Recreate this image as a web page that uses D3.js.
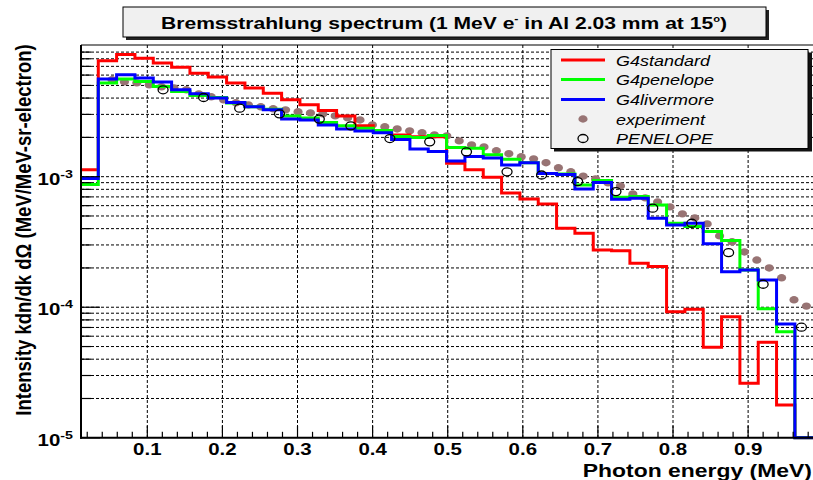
<!DOCTYPE html>
<html>
<head>
<meta charset="utf-8">
<script src="https://cdn.jsdelivr.net/npm/d3@7"></script>
<style>
  body { margin: 0; background: #fff; }
  svg { display: block; }
  text { font-family: "Liberation Sans", Arial, Helvetica, sans-serif; fill: #000; }
</style>
</head>
<body>
<svg width="813" height="480"></svg>
<script>
// histogram binning (bin 0 starts left of the frame)
const binStart = 0.0103;
const binWidth = 0.02441;

const g4standard = [1.13e-3, 7.72e-3, 8.62e-3, 8.09e-3, 7.41e-3, 6.90e-3, 6.21e-3, 5.79e-3, 5.21e-3, 4.77e-3,
  4.36e-3, 3.88e-3, 3.55e-3, 3.21e-3, 2.92e-3, 2.45e-3, 2.24e-3, 2.09e-3, 2.02e-3, 2.02e-3,
  1.27e-3, 1.13e-3, 9.88e-4, 7.51e-4, 6.76e-4, 6.19e-4, 4.03e-4, 3.69e-4, 2.75e-4, 2.71e-4,
  2.17e-4, 2.05e-4, 9.25e-5, 9.65e-5, 4.94e-5, 8.47e-5, 2.62e-5, 5.39e-5, 1.78e-5, 0];

const g4penelope = [8.70e-4, 5.21e-3, 5.59e-3, 5.36e-3, 4.90e-3, 4.49e-3, 4.18e-3, 4.04e-3, 3.66e-3, 3.44e-3,
  3.29e-3, 2.92e-3, 2.81e-3, 2.60e-3, 2.45e-3, 2.35e-3, 2.26e-3, 2.03e-3, 2.00e-3, 2.07e-3,
  1.67e-3, 1.65e-3, 1.47e-3, 1.36e-3, 1.28e-3, 1.06e-3, 1.05e-3, 8.65e-4, 9.33e-4, 6.97e-4,
  7.04e-4, 6.08e-4, 4.40e-4, 4.15e-4, 3.80e-4, 3.24e-4, 1.93e-4, 9.74e-5, 6.50e-5, 0];

const g4livermore = [9.67e-4, 5.59e-3, 6.03e-3, 5.69e-3, 5.30e-3, 4.63e-3, 4.31e-3, 4.00e-3, 3.70e-3, 3.44e-3,
  3.25e-3, 2.77e-3, 2.72e-3, 2.49e-3, 2.32e-3, 2.24e-3, 2.17e-3, 1.93e-3, 1.63e-3, 1.56e-3,
  1.32e-3, 1.43e-3, 1.39e-3, 1.23e-3, 1.28e-3, 1.06e-3, 1.04e-3, 8.06e-4, 9.01e-4, 6.72e-4,
  6.84e-4, 4.81e-4, 4.27e-4, 4.40e-4, 3.06e-4, 1.87e-4, 1.93e-4, 1.62e-4, 7.45e-5, 0];

const expEnergy = [0.053, 0.0695, 0.086, 0.1025, 0.119, 0.1355, 0.152, 0.1686, 0.1851, 0.2016,
  0.2181, 0.2346, 0.2511, 0.2676, 0.2841, 0.3007, 0.3172, 0.3337, 0.3502, 0.3667,
  0.3832, 0.3997, 0.4162, 0.4327, 0.4493, 0.4658, 0.4823, 0.4988, 0.5153, 0.5318,
  0.5483, 0.5648, 0.5814, 0.5979, 0.6144, 0.6309, 0.6474, 0.6639, 0.6804, 0.6969,
  0.7134, 0.7300, 0.7465, 0.7630, 0.7795, 0.7960, 0.8125, 0.8290, 0.8455, 0.8620,
  0.8786, 0.8951, 0.9116, 0.9281, 0.9446, 0.9611, 0.9776];
const expValue = [5.52e-3, 5.33e-3, 5.23e-3, 5.05e-3, 4.88e-3, 4.79e-3, 4.63e-3, 4.31e-3, 4.09e-3, 3.88e-3,
  3.68e-3, 3.55e-3, 3.43e-3, 3.31e-3, 3.25e-3, 3.14e-3, 3.08e-3, 3.03e-3, 2.92e-3, 2.82e-3,
  2.72e-3, 2.49e-3, 2.41e-3, 2.32e-3, 2.24e-3, 2.17e-3, 2.09e-3, 2.05e-3, 1.88e-3, 1.75e-3,
  1.69e-3, 1.58e-3, 1.50e-3, 1.42e-3, 1.37e-3, 1.28e-3, 1.17e-3, 1.09e-3, 1.01e-3, 9.62e-4,
  8.97e-4, 8.50e-4, 7.38e-4, 6.88e-4, 6.41e-4, 5.87e-4, 5.19e-4, 4.83e-4, 4.35e-4, 3.52e-4,
  3.17e-4, 2.65e-4, 2.30e-4, 2.00e-4, 1.68e-4, 1.14e-4, 1.02e-4];

const penEnergy = [0.121, 0.175, 0.223, 0.276, 0.329, 0.371, 0.423, 0.476, 0.525, 0.579,
  0.625, 0.673, 0.724, 0.773, 0.825, 0.874, 0.920, 0.971];
const penValue = [4.63e-3, 4.04e-3, 3.35e-3, 3.03e-3, 2.76e-3, 2.45e-3, 1.96e-3, 1.85e-3, 1.55e-3, 1.09e-3,
  1.03e-3, 9.17e-4, 7.69e-4, 5.74e-4, 4.40e-4, 2.62e-4, 1.50e-4, 7.03e-5];

const xTickLabels = [0.1, 0.2, 0.3, 0.4, 0.5, 0.6, 0.7, 0.8, 0.9];
const yDecades = [-5, -4, -3];

const series = [
  { name: "G4standard", values: g4standard, color: "#ff0000" },
  { name: "G4penelope", values: g4penelope, color: "#00ff00" },
  { name: "G4livermore", values: g4livermore, color: "#0000ff" },
];

const sx = 1.24; // the picture is stretched sideways, text too
const expColor = "#987474";

const svg = d3.select("svg");
const pLeft = 81, pRight = 813, pTop = 45, pBottom = 437.8;

const x = d3.scaleLinear().domain([0.0117, 0.9864]).range([pLeft, pRight]);
const y = d3.scaleLog().domain([1e-5, 1.02e-2]).range([pBottom, pTop]);
const yv = (v) => y(Math.max(v, 1e-5));

svg.append("defs").append("clipPath").attr("id", "plot")
  .append("rect")
  .attr("x", pLeft).attr("y", pTop)
  .attr("width", pRight - pLeft).attr("height", pBottom - pTop + 2);

// grid
const grid = svg.append("g")
  .attr("stroke", "#000")
  .attr("stroke-width", 1)
  .attr("stroke-dasharray", "3,2");

grid.selectAll(".gx")
  .data(xTickLabels)
  .join("line")
  .attr("x1", (d) => x(d)).attr("x2", (d) => x(d))
  .attr("y1", pTop).attr("y2", pBottom);

const yGrid = [];
yDecades.forEach((k) => d3.range(1, 10).forEach((m) => yGrid.push(m * Math.pow(10, k))));

grid.selectAll(".gy")
  .data(yGrid.filter((v) => v > 1e-5))
  .join("line")
  .attr("x1", pLeft).attr("x2", pRight)
  .attr("y1", (d) => y(d)).attr("y2", (d) => y(d));

const plot = svg.append("g").attr("clip-path", "url(#plot)");

// experiment (under the histograms)
plot.append("g")
  .selectAll("ellipse")
  .data(expEnergy)
  .join("ellipse")
  .attr("cx", (d) => x(d))
  .attr("cy", (d, i) => y(expValue[i]))
  .attr("rx", 4.6).attr("ry", 3.7)
  .attr("fill", expColor);

// histograms
const line = d3.line().x((p) => x(p[0])).y((p) => yv(p[1]));
series.forEach((s) => {
  const pts = [];
  s.values.forEach((v, i) => {
    const lo = binStart + i * binWidth;
    pts.push([lo, v], [lo + binWidth, v]);
  });
  plot.append("path")
    .attr("d", line(pts))
    .attr("fill", "none")
    .attr("stroke", s.color)
    .attr("stroke-width", 3)
    .attr("stroke-linejoin", "miter");
});

// PENELOPE open circles
plot.append("g")
  .selectAll("ellipse")
  .data(penEnergy)
  .join("ellipse")
  .attr("cx", (d) => x(d))
  .attr("cy", (d, i) => y(penValue[i]))
  .attr("rx", 5).attr("ry", 4)
  .attr("fill", "none")
  .attr("stroke", "#000")
  .attr("stroke-width", 1.3);

// frame and axes
svg.append("line").attr("x1", pLeft).attr("x2", pRight).attr("y1", pTop).attr("y2", pTop)
  .attr("stroke", "#000").attr("stroke-width", 1.2);
svg.append("line").attr("x1", pLeft).attr("x2", pLeft).attr("y1", pTop).attr("y2", pBottom + 1)
  .attr("stroke", "#000").attr("stroke-width", 2);
svg.append("line").attr("x1", pLeft - 1).attr("x2", pRight).attr("y1", pBottom).attr("y2", pBottom)
  .attr("stroke", "#000").attr("stroke-width", 2);

// x ticks
const xMinor = d3.range(0.02, 0.99, 0.02);
svg.append("g").selectAll("line")
  .data(xMinor)
  .join("line")
  .attr("x1", (d) => x(d)).attr("x2", (d) => x(d))
  .attr("y1", pBottom).attr("y2", (d) => Math.abs(d * 10 - Math.round(d * 10)) < 1e-6 ? pBottom - 12 : pBottom - 6)
  .attr("stroke", "#000").attr("stroke-width", 1.2);

// y ticks
svg.append("g").selectAll("line")
  .data(yGrid)
  .join("line")
  .attr("x1", pLeft).attr("x2", (d, i) => i % 9 === 0 ? pLeft + 19 : pLeft + 10)
  .attr("y1", (d) => y(d)).attr("y2", (d) => y(d))
  .attr("stroke", "#000").attr("stroke-width", 1.2);

// x tick labels
svg.append("g").selectAll("text")
  .data(xTickLabels)
  .join("text")
  .attr("transform", (d) => `translate(${x(d)},454.5) scale(${sx},1)`)
  .attr("text-anchor", "middle")
  .attr("font-size", 16.5)
  .attr("font-weight", "bold")
  .text((d) => d.toFixed(1));

// y tick labels
yDecades.forEach((k) => {
  const t = svg.append("text")
    .attr("transform", `translate(73,${y(Math.pow(10, k)) + 8}) scale(${sx},1)`)
    .attr("text-anchor", "end")
    .attr("font-size", 16.5)
    .attr("font-weight", "bold");
  t.append("tspan").text("10");
  t.append("tspan").attr("dy", -7).attr("font-size", 11.5).text("-" + (-k));
});

// axis titles
svg.append("text")
  .attr("transform", `translate(812,476.5) scale(${sx},1)`)
  .attr("text-anchor", "end")
  .attr("font-size", 18.5)
  .attr("font-weight", "bold")
  .text("Photon energy (MeV)");

svg.append("text")
  .attr("transform", `translate(31,230) scale(${sx},1) rotate(-90)`)
  .attr("text-anchor", "middle")
  .attr("font-size", 18.5)
  .attr("font-weight", "bold")
  .text("Intensity kdn/dk d\u03A9 (MeV/MeV-sr-electron)");

// title box
svg.append("rect").attr("x", 126).attr("y", 10).attr("width", 643).attr("height", 30).attr("fill", "#222");
svg.append("rect").attr("x", 123).attr("y", 7).attr("width", 643).attr("height", 30)
  .attr("fill", "#f0f0f0").attr("stroke", "#000").attr("stroke-width", 1);
const title = svg.append("text")
  .attr("transform", `translate(444,29) scale(${sx},1)`)
  .attr("text-anchor", "middle")
  .attr("font-size", 17)
  .attr("font-weight", "bold");
title.append("tspan").text("Bremsstrahlung spectrum (1 MeV e");
title.append("tspan").attr("dy", -7).attr("font-size", 10).text("-");
title.append("tspan").attr("dy", 7).text(" in Al 2.03 mm at 15");
title.append("tspan").attr("dy", -7).attr("font-size", 9).text("o");
title.append("tspan").attr("dy", 7).text(")");

// legend
svg.append("rect").attr("x", 554).attr("y", 52.5).attr("width", 258).attr("height", 99).attr("fill", "#111");
svg.append("rect").attr("x", 551).attr("y", 49.5).attr("width", 257).attr("height", 99)
  .attr("fill", "#f2f2f2").attr("stroke", "#000").attr("stroke-width", 1);

const rowY = [60, 79.5, 99.5, 119, 138.5];
const legend = svg.append("g");
series.forEach((s, i) => {
  legend.append("line")
    .attr("x1", 561).attr("x2", 605)
    .attr("y1", rowY[i]).attr("y2", rowY[i])
    .attr("stroke", s.color).attr("stroke-width", 3);
});
legend.append("ellipse").attr("cx", 583).attr("cy", rowY[3])
  .attr("rx", 4.6).attr("ry", 3.7).attr("fill", expColor);
legend.append("ellipse").attr("cx", 583).attr("cy", rowY[4])
  .attr("rx", 5).attr("ry", 4).attr("fill", "none").attr("stroke", "#000").attr("stroke-width", 1.3);

const legendNames = ["G4standard", "G4penelope", "G4livermore", "experiment", "PENELOPE"];
legend.selectAll("text")
  .data(legendNames)
  .join("text")
  .attr("transform", (d, i) => `translate(616,${rowY[i] + 5.5}) scale(${sx},1)`)
  .attr("font-size", 14.5)
  .attr("font-style", "italic")
  .text((d) => d);
</script>
</body>
</html>
